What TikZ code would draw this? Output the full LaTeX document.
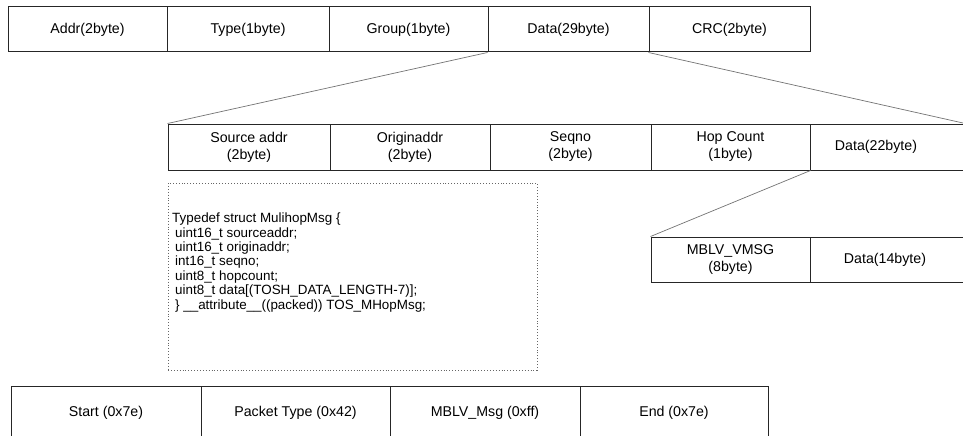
\documentclass[tikz,border=0pt]{standalone}
\usepackage{fontspec}
\setmainfont{Liberation Sans}
\begin{document}
\begin{tikzpicture}[x=1pt,y=-1pt,
  cell/.style={draw=black!85, line width=1pt, inner sep=0pt,
    font=\fontsize{14.2}{17}\selectfont, align=center},
  label/.style={inner sep=0pt, font=\fontsize{14.2}{17}\selectfont, align=center},
  link/.style={draw=black!55, line width=0.7pt},
  codebox/.style={draw=black!60, dotted, line width=0.9pt}]
\useasboundingbox (0,0) rectangle (963,436);
\clip (0,0) rectangle (963,436);

% packet header row
\node[cell, minimum width=159, minimum height=45] (addr)  at (87.5,29.5)  {Addr(2byte)};
\node[cell, minimum width=162, minimum height=45] (type)  at (248,29.5)   {Type(1byte)};
\node[cell, minimum width=159, minimum height=45] (group) at (408.5,29.5) {Group(1byte)};
\node[cell, minimum width=161, minimum height=45] (data29) at (568.5,29.5) {Data(29byte)};
\node[cell, minimum width=161, minimum height=45] (crc)   at (729.5,29.5) {CRC(2byte)};

% multihop message row
\node[cell, minimum width=162, minimum height=46] (src)  at (249,147) {Source addr\\(2byte)};
\node[cell, minimum width=160, minimum height=46] (orig) at (410,147) {Originaddr\\(2byte)};
\node[cell, minimum width=161, minimum height=46] (seq)  at (570.5,147) {Seqno\\(2byte)};
\node[cell, minimum width=159, minimum height=46] (hop)  at (730.5,147) {Hop Count\\(1byte)};
\node[cell, minimum width=165, minimum height=46] (data22) at (892.5,147) {};
\node[label] (data22txt) at (876,147) {Data(22byte)};
\coordinate (data22end) at (963,123);

% payload row
\node[cell, minimum width=159, minimum height=45] (mblv) at (730.5,259.5) {MBLV\_VMSG\\(8byte)};
\node[cell, minimum width=165, minimum height=45] (data14) at (892.5,259.5) {};
\node[label] (data14txt) at (885,259.5) {Data(14byte)};

% expansion lines
\draw[link] (data29.south west) -- (src.north west);
\draw[link] (crc.south west) -- (data22end);
\draw[link] (hop.south east) -- (mblv.north west);

% struct definition
\node[codebox, minimum width=369, minimum height=187] (code) at (352.5,276.5) {};
\node[inner sep=0pt, anchor=west, align=left,
  font=\fontsize{13.4}{14.4}\selectfont] (codetxt) at (172,262.5)
  {Typedef struct MulihopMsg \{\\
   \hspace*{3pt}uint16\_t sourceaddr;\\
   \hspace*{3pt}uint16\_t originaddr;\\
   \hspace*{3pt}int16\_t seqno;\\
   \hspace*{3pt}uint8\_t hopcount;\\
   \hspace*{3pt}uint8\_t data[(TOSH\_DATA\_LENGTH-7)];\\
   \hspace*{3pt}\} \_\_attribute\_\_((packed)) TOS\_MHopMsg;};

% serial frame row
\node[cell, minimum width=190, minimum height=54] (start) at (106,413) {Start (0x7e)};
\node[cell, minimum width=189, minimum height=54] (ptype) at (295.5,413) {Packet Type (0x42)};
\node[cell, minimum width=190, minimum height=54] (msg)   at (485,413) {MBLV\_Msg (0xff)};
\node[cell, minimum width=188, minimum height=54] (fend)  at (674,413) {End (0x7e)};
\end{tikzpicture}
\end{document}
